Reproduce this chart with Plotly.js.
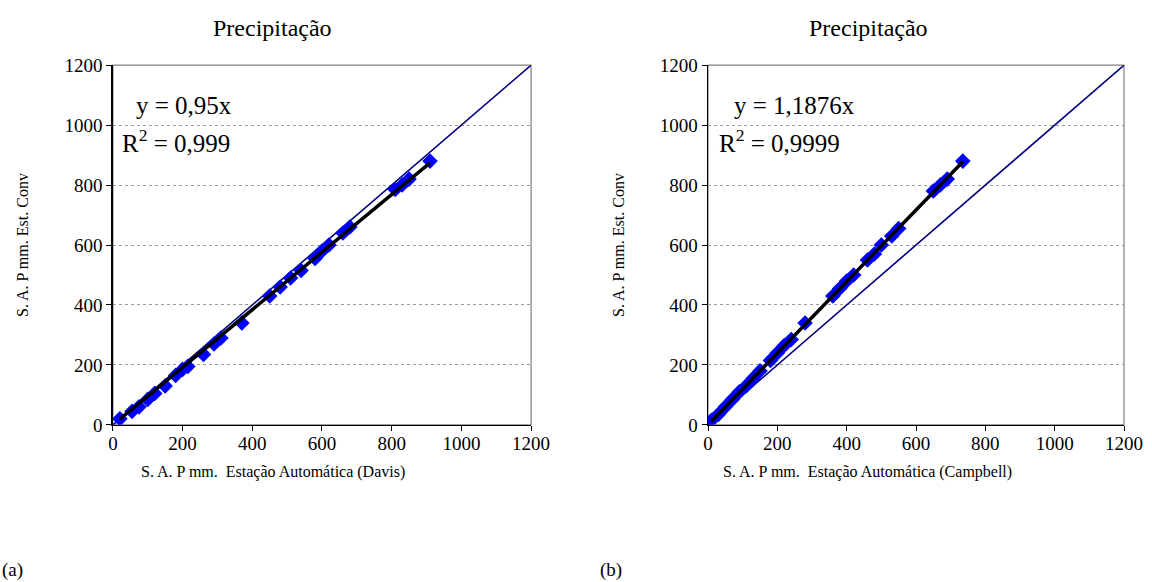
<!DOCTYPE html>
<html><head><meta charset="utf-8">
<script src="https://cdn.plot.ly/plotly-3.0.1.min.js"></script>
<style>html,body{margin:0;padding:0;background:#fff}#chart{width:1152px;height:582px}</style>
</head><body><div id="chart"></div>
<script>
// Panel (a): Davis vs conventional
const davisX = [20, 55, 75, 100, 120, 150, 180, 200, 215, 260, 290, 310, 370, 450, 480, 510, 540, 580, 600, 620, 660, 680, 810, 830, 850, 910];
const davisY = [20, 45, 60, 85, 105, 130, 165, 185, 195, 235, 270, 290, 340, 430, 460, 490, 515, 555, 580, 600, 640, 660, 785, 800, 820, 880];
// Panel (b): Campbell vs conventional
const campX = [10, 30, 50, 70, 90, 110, 130, 150, 180, 200, 220, 240, 280, 360, 380, 400, 420, 460, 480, 500, 530, 550, 650, 670, 690, 735];
const campY = [15, 35, 60, 85, 110, 130, 155, 180, 215, 240, 265, 285, 340, 430, 455, 480, 500, 550, 570, 600, 630, 655, 780, 800, 820, 880];
const tickVals = [0, 200, 400, 600, 800, 1000, 1200];
const eqA = ["y = 0,95x", "R<sup>2</sup> = 0,999"];
const eqB = ["y = 1,1876x", "R<sup>2</sup> = 0,9999"];
const titleText = "Precipitação";
const yTitle = "S. A. P mm. Est. Conv";
const xTitleA = "S. A. P mm.\u00a0 Estação Automática (Davis)";
const xTitleB = "S. A. P mm.\u00a0 Estação Automática (Campbell)";

function slope(xs, ys) { let a = 0, b = 0; xs.forEach((x, i) => { a += x * ys[i]; b += x * x; }); return a / b; }
function trend(xs, ys, xa, ya) {
  const k = slope(xs, ys), x0 = Math.min(...xs), x1 = Math.max(...xs);
  return {x: [x0, x1], y: [k * x0, k * x1], xaxis: xa, yaxis: ya, mode: 'lines', line: {color: '#000', width: 3.5}, hoverinfo: 'skip'};
}
function oneToOne(xa, ya) { return {x: [0, 1200], y: [0, 1200], xaxis: xa, yaxis: ya, mode: 'lines', line: {color: '#000080', width: 1.6}}; }
function pts(xs, ys, xa, ya) { return {x: xs, y: ys, xaxis: xa, yaxis: ya, mode: 'markers', marker: {symbol: 'diamond', color: '#0000FF', size: 12, line: {width: 0}}}; }

const F = '"Liberation Serif", "Times New Roman", serif';
const data = [
  oneToOne('x', 'y'), pts(davisX, davisY, 'x', 'y'), trend(davisX, davisY, 'x', 'y'),
  oneToOne('x2', 'y2'), pts(campX, campY, 'x2', 'y2'), trend(campX, campY, 'x2', 'y2')
];
function xa(dom, anchor) {
  return {domain: dom, anchor: anchor, range: [0, 1200], tickvals: tickVals, showgrid: false, zeroline: false,
    showline: true, linecolor: '#000', linewidth: 1.5, ticks: 'outside', ticklen: 5, tickcolor: '#000',
    ticklabelstandoff: -4,
    tickfont: {family: F, size: 19, color: '#000'}, fixedrange: true};
}
function ya(anchor) {
  return {domain: [0.27, 0.888], anchor: anchor, range: [0, 1200], tickvals: tickVals, showgrid: true,
    gridcolor: '#9a9a9a', griddash: 'dot', gridwidth: 1, zeroline: false,
    showline: true, linecolor: '#000', linewidth: 1.5, ticks: 'outside', ticklen: 5, tickcolor: '#000',
    tickfont: {family: F, size: 19, color: '#000'}, fixedrange: true};
}
const txt = (x, y, t, size, extra) => Object.assign({xref: 'paper', yref: 'paper', x: x / 1152, y: 1 - y / 582, text: t, showarrow: false,
  xanchor: 'center', yanchor: 'middle', font: {family: F, size: size, color: '#000'}}, extra || {});
const layout = {
  width: 1152, height: 582, margin: {l: 0, r: 0, t: 0, b: 0}, paper_bgcolor: '#fff', plot_bgcolor: '#fff', showlegend: false,
  xaxis: xa([0.098, 0.461], 'y'), yaxis: ya('x'),
  xaxis2: xa([0.6146, 0.9757], 'y2'), yaxis2: ya('x2'),
  shapes: [
    {type: 'rect', xref: 'x domain', yref: 'y domain', x0: 0, x1: 1, y0: 0, y1: 1, line: {color: '#808080', width: 1.2}, layer: 'below'},
    {type: 'rect', xref: 'x2 domain', yref: 'y2 domain', x0: 0, x1: 1, y0: 0, y1: 1, line: {color: '#808080', width: 1.2}, layer: 'below'}
  ],
  annotations: [
    txt(272, 28, titleText, 24), txt(868, 28, titleText, 24),
    txt(22, 245, yTitle, 16, {textangle: -90}), txt(618, 245, yTitle, 16, {textangle: -90}),
    txt(273, 472, xTitleA, 16), txt(867, 472, xTitleB, 16),
    txt(134, 105, eqA[0], 25, {xanchor: 'left'}), txt(120, 141, eqA[1], 25, {xanchor: 'left'}),
    txt(732, 105, eqB[0], 25, {xanchor: 'left'}), txt(717, 141, eqB[1], 25, {xanchor: 'left'}),
    txt(0, 570, "(a)", 19, {xanchor: 'left'}), txt(598, 570, "(b)", 19, {xanchor: 'left'})
  ]
};
Plotly.newPlot('chart', data, layout, {staticPlot: true});
</script></body></html>
